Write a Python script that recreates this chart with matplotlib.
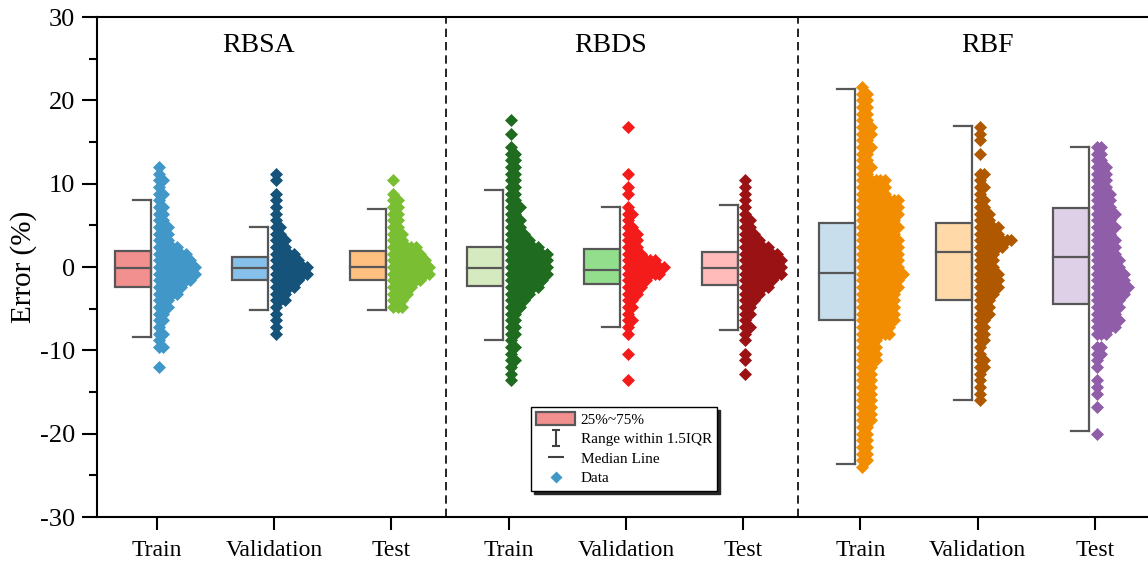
import numpy as np
import matplotlib.pyplot as plt
from matplotlib.patches import Rectangle, Patch
from matplotlib.lines import Line2D
from matplotlib.path import Path
from matplotlib.ticker import MultipleLocator

plt.rcParams['font.family'] = ['Liberation Serif', 'DejaVu Serif']
plt.rcParams['axes.unicode_minus'] = False

models = ['RBSA', 'RBDS', 'RBF']
sets = ['Train', 'Validation', 'Test']

# box statistics, order: RBSA Train/Val/Test, RBDS ..., RBF ...
whis_hi = [8.1, 4.8, 7.0, 9.2, 7.2, 7.4, 21.3, 16.9, 14.4]
q3 = [1.9, 1.24, 1.96, 2.36, 2.12, 1.8, 5.32, 5.24, 7.04]
median = [-0.15, -0.16, 0.04, -0.16, -0.36, -0.16, -0.68, 1.84, 1.24]
q1 = [-2.4, -1.5, -1.56, -2.28, -2.04, -2.16, -6.36, -3.96, -4.44]
whis_lo = [-8.4, -5.1, -5.1, -8.8, -7.2, -7.6, -23.6, -15.9, -19.7]

box_colors = ['#F28F8F', '#87C0EA', '#FFC080', '#D5EBBF', '#93DE8C', '#FFBABA',
              '#C8DEEC', '#FFDAA8', '#DED0E6']
pt_colors = ['#4297C9', '#16537A', '#7ABE34', '#1F6B1F', '#F41B1B', '#9B1214',
             '#F28C00', '#AF5800', '#905EA8']

# data points: error level (%) and number of diamonds sitting on that level
err_levels = [-24.0, -23.2, -22.4, -21.6, -20.8, -20.0, -19.2, -18.4, -17.6, -16.8,
              -16.0, -15.2, -14.4, -13.6, -12.8, -12.0, -11.2, -10.4, -9.6, -8.8,
              -8.0, -7.2, -6.4, -5.6, -4.8, -4.0, -3.2, -2.4, -1.6, -0.8,
              0.0, 0.8, 1.6, 2.4, 3.2, 4.0, 4.8, 5.6, 6.4, 7.2,
              8.0, 8.8, 9.6, 10.4, 11.2, 12.0, 12.8, 13.6, 14.4, 15.2,
              16.0, 16.8, 17.6, 18.4, 19.2, 20.0, 20.8, 21.6]

rbsa_train_n = [0, 0, 0, 0, 0, 0, 0, 0, 0, 0,
                0, 0, 0, 0, 0, 1, 0, 0, 2, 1,
                2, 1, 2, 2, 3, 3, 5, 6, 8, 9,
                9, 8, 7, 5, 3, 3, 3, 2, 2, 2,
                1, 2, 1, 2, 1, 1, 0, 0, 0, 0,
                0, 0, 0, 0, 0, 0, 0, 0]
rbsa_val_n = [0, 0, 0, 0, 0, 0, 0, 0, 0, 0,
              0, 0, 0, 0, 0, 0, 0, 0, 0, 0,
              1, 1, 1, 1, 1, 3, 3, 5, 6, 8,
              8, 6, 5, 3, 3, 2, 2, 1, 1, 1,
              1, 1, 0, 1, 1, 0, 0, 0, 0, 0,
              0, 0, 0, 0, 0, 0, 0, 0]
rbsa_test_n = [0, 0, 0, 0, 0, 0, 0, 0, 0, 0,
               0, 0, 0, 0, 0, 0, 0, 0, 0, 0,
               0, 0, 0, 0, 3, 3, 4, 5, 7, 9,
               9, 8, 7, 6, 3, 3, 2, 2, 2, 2,
               2, 1, 0, 1, 0, 0, 0, 0, 0, 0,
               0, 0, 0, 0, 0, 0, 0, 0]
rbds_train_n = [0, 0, 0, 0, 0, 0, 0, 0, 0, 0,
                0, 0, 0, 1, 1, 1, 2, 1, 2, 1,
                2, 2, 2, 2, 3, 4, 5, 7, 8, 9,
                9, 9, 9, 7, 5, 4, 3, 3, 2, 3,
                2, 2, 2, 2, 2, 2, 2, 2, 1, 0,
                1, 0, 1, 0, 0, 0, 0, 0]
rbds_val_n = [0, 0, 0, 0, 0, 0, 0, 0, 0, 0,
              0, 0, 0, 1, 0, 0, 0, 1, 0, 0,
              1, 1, 2, 1, 2, 2, 3, 4, 5, 8,
              9, 7, 4, 3, 3, 3, 2, 1, 2, 1,
              0, 1, 1, 0, 1, 0, 0, 0, 0, 0,
              0, 1, 0, 0, 0, 0, 0, 0]
rbds_test_n = [0, 0, 0, 0, 0, 0, 0, 0, 0, 0,
               0, 0, 0, 0, 1, 0, 1, 1, 0, 1,
               1, 2, 1, 2, 2, 3, 4, 6, 7, 9,
               9, 9, 8, 6, 4, 3, 2, 2, 1, 1,
               1, 1, 1, 1, 0, 0, 0, 0, 0, 0,
               0, 0, 0, 0, 0, 0, 0, 0]
rbf_train_n = [1, 2, 2, 2, 2, 2, 2, 3, 3, 3,
               3, 3, 3, 3, 3, 3, 4, 4, 4, 4,
               7, 7, 8, 8, 8, 8, 8, 9, 9, 10,
               9, 9, 9, 9, 9, 8, 9, 8, 9, 9,
               9, 6, 6, 6, 2, 3, 2, 2, 3, 2,
               3, 3, 2, 2, 2, 2, 2, 1]
rbf_val_n = [0, 0, 0, 0, 0, 0, 0, 0, 0, 0,
             1, 1, 1, 1, 1, 2, 2, 1, 1, 2,
             2, 2, 2, 3, 3, 3, 4, 5, 5, 5,
             4, 4, 4, 6, 8, 5, 5, 3, 3, 2,
             2, 1, 2, 1, 2, 0, 0, 1, 0, 1,
             1, 1, 0, 0, 0, 0, 0, 0]
rbf_test_n = [0, 0, 0, 0, 0, 1, 0, 0, 0, 1,
              0, 1, 1, 1, 0, 1, 1, 2, 2, 0,
              3, 5, 6, 5, 6, 6, 7, 8, 7, 7,
              6, 6, 5, 5, 5, 4, 5, 4, 5, 4,
              4, 4, 3, 3, 3, 3, 2, 2, 2, 0,
              0, 0, 0, 0, 0, 0, 0, 0]

counts = [rbsa_train_n, rbsa_val_n, rbsa_test_n,
          rbds_train_n, rbds_val_n, rbds_test_n,
          rbf_train_n, rbf_val_n, rbf_test_n]

edge = '#575757'

fig = plt.figure(figsize=(11.48, 5.63), dpi=100)
ax = fig.add_axes([97 / 1148, 46 / 563, 1051 / 1148, 500 / 563])
ax.set_xlim(-0.509, 8.452)
ax.set_ylim(-30, 30)
px = (8.452 + 0.509) / 1051  # x data units per pixel

for g in range(9):
    xw = g - 5.5 * px           # whisker line, right side of the half box
    xb = xw - 36 * px           # left side of the box
    ax.plot([xw, xw], [whis_lo[g], whis_hi[g]], color=edge, lw=1.6, zorder=6)
    ax.plot([xw - 18 * px, xw], [whis_hi[g], whis_hi[g]], color=edge, lw=1.6, zorder=6)
    ax.plot([xw - 18 * px, xw], [whis_lo[g], whis_lo[g]], color=edge, lw=1.6, zorder=6)
    ax.add_patch(Rectangle((xb, q1[g]), xw - xb, q3[g] - q1[g], fc=box_colors[g],
                           ec=edge, lw=1.6, zorder=3))
    ax.plot([xb, xw], [median[g], median[g]], color=edge, lw=1.6, zorder=4)

    xs, ys = [], []
    for lv, c in zip(err_levels, counts[g]):
        for k in range(c):
            xs.append(g + (2 + k * 4.5) * px)
            ys.append(lv)
    ax.scatter(xs, ys, s=44, marker='D', color=pt_colors[g], linewidths=0, zorder=5)

for xd in [2.47, 5.47]:
    ax.axvline(xd, color='k', lw=1.2, ls=(0, (5, 3)), zorder=1)

for xm, name in zip([0.864, 3.866, 7.08], models):
    ax.text(xm, 26.6, name, ha='center', va='center', fontsize=20)

ax.set_xticks(range(9))
ax.set_xticklabels(sets * 3)
ax.yaxis.set_major_locator(MultipleLocator(10))
ax.yaxis.set_minor_locator(MultipleLocator(5))
ax.tick_params(axis='y', which='major', length=10.8, width=1.5, labelsize=19, pad=5)
ax.tick_params(axis='y', which='minor', length=5.8, width=1.5)
ax.tick_params(axis='x', which='major', length=9.5, width=1.5, labelsize=17, pad=7)
for s in ['left', 'bottom', 'top']:
    ax.spines[s].set_linewidth(1.5)
ax.spines['right'].set_visible(False)

ax.set_ylabel('Error (%)', fontsize=21)
ax.yaxis.set_label_coords(-0.057, 0.5)

ibeam = Path([(-0.5, 1), (0.5, 1), (0, 1), (0, -1), (-0.5, -1), (0.5, -1)],
             [Path.MOVETO, Path.LINETO, Path.MOVETO, Path.LINETO, Path.MOVETO, Path.LINETO])
handles = [Patch(fc=box_colors[0], ec=edge, lw=1.6),
           Line2D([], [], ls='none', marker=ibeam, ms=11, mec='#404040', mew=1.5),
           Line2D([], [], ls='none', marker='_', ms=12, mec='#404040', mew=1.5),
           Line2D([], [], ls='none', marker='D', ms=6, mfc=pt_colors[0], mec='none')]
labels = ['25%~75%', 'Range within 1.5IQR', 'Median Line', 'Data']
leg = ax.legend(handles, labels, loc='upper left', bbox_to_anchor=(0.413, 0.22),
                fontsize=11, frameon=True, fancybox=False, framealpha=1,
                shadow={'color': '0.15', 'alpha': 1}, edgecolor='k', borderaxespad=0,
                borderpad=0.35, labelspacing=0.32, handlelength=2.5, handleheight=0.9,
                handletextpad=0.4)
leg.get_frame().set_linewidth(1.0)

fig.savefig('out.png', dpi=100)
